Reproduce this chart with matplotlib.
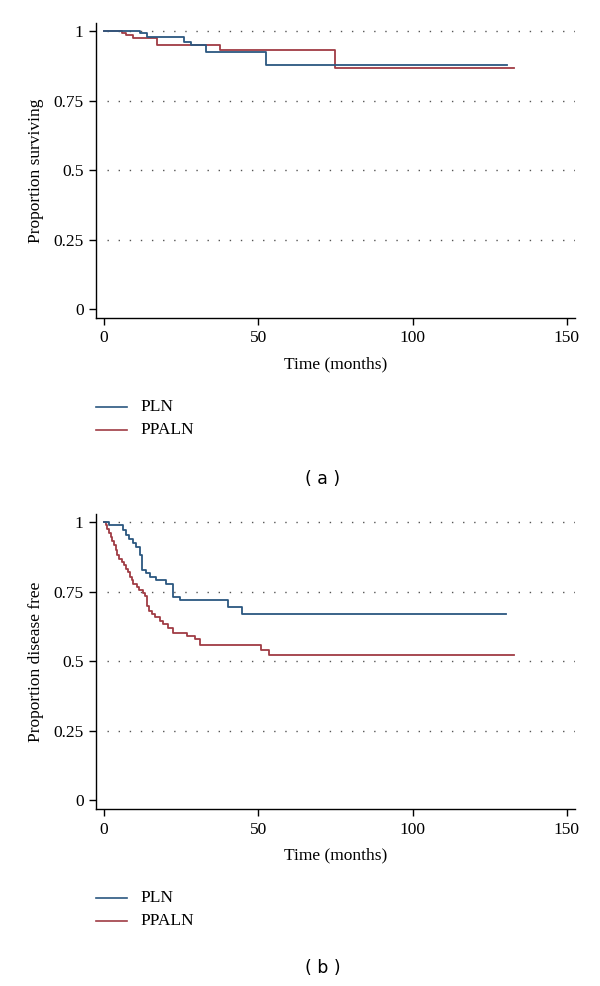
import matplotlib
matplotlib.use("Agg")
import matplotlib.pyplot as plt

# Kaplan-Meier step data (time in months, proportion)
a_pln_t = [0, 11.7, 14.0, 26.0, 28.1, 33.1, 52.5, 130.5]
a_pln_s = [1.0, 0.992, 0.980, 0.960, 0.948, 0.924, 0.876, 0.876]
a_ppaln_t = [0, 5.9, 7.0, 9.5, 17.1, 37.6, 75.0, 133.0]
a_ppaln_s = [1.0, 0.992, 0.984, 0.974, 0.950, 0.932, 0.868, 0.868]

b_pln_t = [0, 1.7, 6.0, 7.1, 8.2, 9.3, 10.4, 11.8, 12.3, 13.6, 15.0, 16.8,
           20.1, 22.5, 24.6, 40.3, 44.6, 130.3]
b_pln_s = [1.0, 0.988, 0.97, 0.955, 0.94, 0.926, 0.91, 0.88, 0.826, 0.815,
           0.803, 0.79, 0.778, 0.73, 0.718, 0.693, 0.669, 0.669]
b_ppaln_t = [0, 0.65, 1.1, 1.6, 2.2, 2.7, 3.2, 3.9, 4.3, 5.0, 5.7, 6.5, 7.1,
             7.9, 8.4, 9.0, 9.5, 10.6, 11.4, 12.5, 13.3, 13.8, 14.7, 15.4,
             16.5, 18.1, 19.2, 20.8, 22.5, 26.8, 29.5, 31.0, 51.0, 53.5, 133.0]
b_ppaln_s = [1.0, .988, .976, .962, .946, .931, .916, .898, .880, .868, .856,
             .844, .832, .820, .802, .790, .778, .766, .754, .745, .733, .70,
             .681, .669, .657, .645, .633, .621, .603, .591, .579, .559, .54,
             .521, .521]

group_names = ["PLN", "PPALN"]
x_ticks = [0, 50, 100, 150]
y_ticks = [0, 0.25, 0.5, 0.75, 1]
y_ticklabels = ["0", "0.25", "0.5", "0.75", "1"]

BLUE = "#2b5780"
RED = "#a03c44"
SERIF = "Liberation Serif"

fig = plt.figure(figsize=(6.0, 9.86), dpi=100)


def draw_panel(bottom, ylabel, pln, ppaln, tag, legend_y, tag_y):
    ax = fig.add_axes([0.16, bottom, 0.798, 0.299])
    # dotted reference lines start just right of the y axis
    for yv in y_ticks[1:]:
        ax.axhline(yv, xmin=0.023, color="#555555", lw=1.0, ls=(0, (1, 7)),
                   zorder=1)
    ax.step(pln[0], pln[1], where="post", color=BLUE, lw=1.3, zorder=3)
    ax.step(ppaln[0], ppaln[1], where="post", color=RED, lw=1.3, zorder=2)
    ax.set_xlim(-2.6, 152.6)
    ax.set_ylim(-0.031, 1.028)
    ax.set_xticks(x_ticks)
    ax.set_yticks(y_ticks)
    ax.set_yticklabels(y_ticklabels)
    for s in ["top", "right"]:
        ax.spines[s].set_visible(False)
    for s in ["left", "bottom"]:
        ax.spines[s].set_linewidth(1.0)
    ax.tick_params(direction="out", length=5, width=1.0, labelsize=12.5, pad=4)
    for lab in ax.get_xticklabels() + ax.get_yticklabels():
        lab.set_fontfamily(SERIF)
    ax.set_xlabel("Time (months)", fontsize=12.5, family=SERIF, labelpad=7)
    ax.set_ylabel(ylabel, fontsize=12.5, family=SERIF, labelpad=7)

    # legend drawn below the plot
    for i, (name, col) in enumerate(zip(group_names, [BLUE, RED])):
        yy = 1 - (legend_y + 23 * i) / 986
        fig.add_artist(plt.Line2D([96 / 600, 127 / 600], [yy, yy], color=col,
                                  lw=1.2))
        fig.text(140 / 600, yy, name, fontsize=12.5, family=SERIF,
                 va="center", ha="left")
    fig.text(323 / 600, 1 - tag_y / 986, tag, fontsize=12.5, ha="center",
             va="center", family="DejaVu Sans")
    return ax


draw_panel(0.6775, "Proportion surviving", (a_pln_t, a_pln_s),
           (a_ppaln_t, a_ppaln_s), "( a )", 407, 479)
draw_panel(0.1795, "Proportion disease free", (b_pln_t, b_pln_s),
           (b_ppaln_t, b_ppaln_s), "( b )", 898, 968)

fig.savefig("out.png", dpi=100)
